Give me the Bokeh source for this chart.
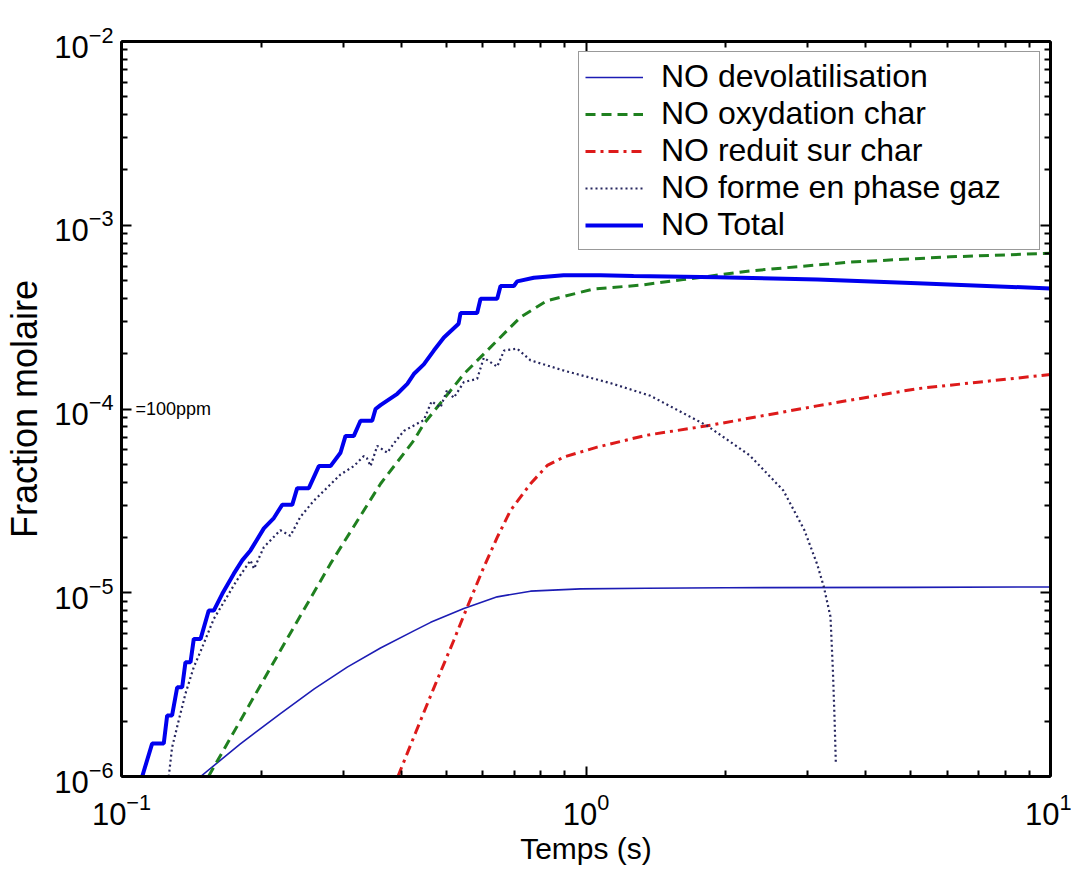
from bokeh.plotting import figure
from bokeh.models import LogAxis, FixedTicker, Label, CustomJSTickFormatter
from bokeh.embed import file_html
from bokeh.resources import INLINE

# ---------------- data ----------------
t_devol = [0.148, 0.18, 0.2199, 0.2600, 0.3062, 0.3611, 0.4259, 0.4630, 0.5458, 0.6439, 0.7595, 0.9733, 1.35, 2.0,
           5.0, 10.0]
y_devol = [1.0e-6, 1.5e-6, 2.2e-6, 3.0e-6, 3.94e-6, 5.0e-6, 6.2e-6, 6.9e-6, 8.2e-6, 9.5e-6, 1.02e-5, 1.05e-5,
           1.058e-5, 1.065e-5, 1.07e-5, 1.075e-5]

t_oxy = [0.1539, 0.2198, 0.2818, 0.3612, 0.4259, 0.4475, 0.5458, 0.6439, 0.7228, 0.8253, 1.039, 1.31, 1.618, 2.25,
         3.70, 6.08, 10.0]
y_oxy = [1.0e-6, 4.85e-6, 1.44e-5, 3.92e-5, 6.74e-5, 8.3e-5, 1.55e-4, 2.36e-4, 3.16e-4, 3.89e-4, 4.5e-4, 4.72e-4,
         5.06e-4, 5.64e-4, 6.3e-4, 6.73e-4, 7.04e-4]

t_red = [0.3936, 0.43, 0.4695, 0.5191, 0.5544, 0.6026, 0.6439, 0.6876, 0.7595, 0.8253, 0.8946, 1.057, 1.35, 1.824,
         3.145, 5.16, 10.0]
y_red = [1.0e-6, 1.74e-6, 3.0e-6, 5.5e-6, 8.3e-6, 1.38e-5, 2.0e-5, 2.8e-5, 3.92e-5, 4.93e-5, 5.47e-5, 6.2e-5, 7.2e-5,
         8.1e-5, 1.04e-4, 1.29e-4, 1.54e-4]

t_gas = [0.1264, 0.1285, 0.1328, 0.1373, 0.1431, 0.1480, 0.1580, 0.1772, 0.1895, 0.1929, 0.2025, 0.2198, 0.2310,
         0.2425, 0.2589, 0.2961, 0.3164, 0.3325, 0.3375, 0.3437, 0.3553, 0.3733, 0.3858, 0.4054, 0.4475, 0.4651,
         0.4862, 0.5024, 0.5191, 0.5458, 0.583, 0.6026, 0.6439, 0.6663, 0.7110, 0.7595, 0.8946, 1.0746, 1.144,
         1.376, 1.824, 2.25, 2.66, 2.95, 3.145, 3.25, 3.36, 3.40, 3.43, 3.45]
y_gas = [1.0e-6, 1.44e-6, 2.02e-6, 2.82e-6, 3.94e-6, 4.8e-6, 7.2e-6, 1.17e-5, 1.5e-5, 1.35e-5, 1.77e-5, 2.19e-5,
         2.04e-5, 2.58e-5, 3.15e-5, 4.4e-5, 4.89e-5, 5.55e-5, 5.4e-5, 4.89e-5, 6.3e-5, 5.78e-5, 6.5e-5, 7.6e-5,
         8.7e-5, 1.1e-4, 1.02e-4, 1.27e-4, 1.15e-4, 1.4e-4, 1.46e-4, 1.9e-4, 1.7e-4, 2.08e-4, 2.13e-4, 1.84e-4,
         1.62e-4, 1.43e-4, 1.37e-4, 1.18e-4, 8.1e-5, 5.6e-5, 3.6e-5, 2.2e-5, 1.43e-5, 1.08e-5, 7.4e-6, 3.8e-6,
         2.0e-6, 1.19e-6]

t_total = [0.1108, 0.1164, 0.1233, 0.1254, 0.1285, 0.1318, 0.1351, 0.1373, 0.1408, 0.1431, 0.1480, 0.1541, 0.1580,
           0.1648, 0.1745, 0.1819, 0.1895, 0.2025, 0.2128, 0.2218, 0.2331, 0.2389, 0.2531, 0.2660, 0.2818, 0.2961,
           0.3036, 0.3164, 0.3270, 0.3465, 0.3523, 0.3611, 0.3924, 0.4124, 0.4259, 0.4475, 0.4703, 0.4944, 0.5318,
           0.5369, 0.583, 0.5929, 0.6439, 0.6546, 0.6993, 0.7110, 0.7720, 0.8946, 1.0746, 1.266, 1.919, 3.15, 5.17,
           10.0]
y_total = [1.0e-6, 1.51e-6, 1.51e-6, 2.15e-6, 2.15e-6, 3.06e-6, 3.06e-6, 4.19e-6, 4.19e-6, 5.61e-6, 5.61e-6, 8.0e-6,
           8.0e-6, 9.87e-6, 1.27e-5, 1.50e-5, 1.70e-5, 2.24e-5, 2.55e-5, 3.01e-5, 3.01e-5, 3.71e-5, 3.71e-5, 4.89e-5,
           4.89e-5, 5.78e-5, 7.14e-5, 7.14e-5, 8.63e-5, 8.63e-5, 1.0e-4, 1.05e-4, 1.21e-4, 1.37e-4, 1.55e-4, 1.75e-4,
           2.08e-4, 2.45e-4, 2.91e-4, 3.33e-4, 3.33e-4, 3.98e-4, 3.98e-4, 4.67e-4, 4.67e-4, 4.95e-4, 5.18e-4,
           5.34e-4, 5.34e-4, 5.30e-4, 5.21e-4, 5.07e-4, 4.84e-4, 4.53e-4]

labels = ["NO devolatilisation", "NO oxydation char", "NO reduit sur char", "NO forme en phase gaz", "NO Total"]
x_label = "Temps (s)"
y_label = "Fraction molaire"
note = "=100ppm"
note_y = 1e-4

# ---------------- figure ----------------
FONT = "Liberation Sans"
x_major = [0.1, 1.0, 10.0]
x_minor = [m * d for d in (0.1, 1.0) for m in range(2, 10)]
y_major = [1e-6, 1e-5, 1e-4, 1e-3, 1e-2]
y_minor = [m * d for d in (1e-6, 1e-5, 1e-4, 1e-3) for m in range(2, 10)]

p = figure(width=1071, height=872, x_axis_type="log", y_axis_type="log",
           x_range=(0.1, 10), y_range=(1e-6, 1e-2),
           output_backend="svg", toolbar_location=None,
           min_border_left=121, min_border_right=21, min_border_top=41, min_border_bottom=96)
p.grid.visible = False
p.outline_line_color = "black"
p.outline_line_width = 2
p.background_fill_color = "white"
p.border_fill_color = "white"

def style_axis(ax, major, minor, show_labels=True):
    ax.ticker = FixedTicker(ticks=major, minor_ticks=minor)
    ax.axis_line_width = 3
    ax.axis_line_color = "black"
    ax.major_tick_in = 10
    ax.major_tick_out = 0
    ax.minor_tick_in = 6
    ax.minor_tick_out = 0
    ax.major_tick_line_width = 2
    ax.minor_tick_line_width = 2
    if show_labels:
        ax.major_label_text_font = FONT
        ax.major_label_text_font_size = "31px"
        ax.major_label_text_color = "black"
        ax.axis_label_text_font = FONT
        ax.axis_label_text_font_style = "normal"
        ax.axis_label_text_color = "black"
    else:
        ax.formatter = CustomJSTickFormatter(code="return ''")
        ax.major_label_text_font_size = "0px"
        ax.major_label_standoff = 0

xa = p.xaxis[0]
ya = p.yaxis[0]
style_axis(xa, x_major, x_minor)
style_axis(ya, y_major, y_minor)
xa.axis_label = x_label
xa.axis_label_text_font_size = "30px"
xa.major_label_standoff = 16
xa.axis_label_standoff = 4
ya.axis_label = y_label
ya.axis_label_text_font_size = "36px"
ya.major_label_standoff = 8
ya.axis_label_standoff = 6

top = LogAxis()
style_axis(top, x_major, x_minor, show_labels=False)
p.add_layout(top, "above")
right = LogAxis()
style_axis(right, y_major, y_minor, show_labels=False)
p.add_layout(right, "right")

# ---------------- lines ----------------
p.line(t_devol, y_devol, line_color="#1c1cb4", line_width=1.6, legend_label=labels[0])
p.line(t_oxy, y_oxy, line_color="#1f801f", line_width=3, line_dash="10 6", legend_label=labels[1])
p.line(t_red, y_red, line_color="#dd1a1a", line_width=3, line_dash="10 5 3 5", legend_label=labels[2])
p.line(t_gas, y_gas, line_color="#26265e", line_width=2.2, line_dash="2 3", legend_label=labels[3])
p.line(t_total, y_total, line_color="#0000ee", line_width=4, legend_label=labels[4])

p.add_layout(Label(x=0.1072, y=note_y, text=note, text_font=FONT, text_font_size="18px",
                   text_baseline="middle", text_align="left", text_color="black"))

lg = p.legend[0]
lg.location = "top_right"
lg.margin = 10
lg.padding = 6
lg.spacing = 0
lg.glyph_width = 58
lg.label_standoff = 18
lg.label_width = 372
lg.label_text_font = FONT
lg.label_text_font_size = "32px"
lg.label_text_color = "black"
lg.border_line_color = "#333333"
lg.border_line_width = 1.5
lg.background_fill_color = "white"
lg.background_fill_alpha = 1.0

open("out.html", "w").write(file_html(p, INLINE))
